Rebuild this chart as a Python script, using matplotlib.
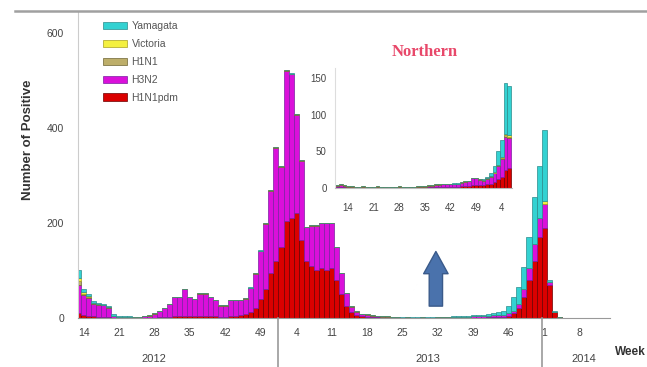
import numpy as np
import matplotlib
matplotlib.use("Agg")
import matplotlib.pyplot as plt
from matplotlib.lines import Line2D

plt.rcParams['font.family'] = ['Liberation Sans', 'DejaVu Sans']

# ----------------------------
# Weekly positives, 2012 wk13 .. 2014 wk4 (week index: 2012 wk1 = 1, 2013 wk1 = 53, 2014 wk1 = 105)
# ----------------------------
weeks = np.arange(13, 109)

h1n1pdm = [10, 6, 5, 4, 3, 3, 2, 1, 1, 1,
           1, 1, 0, 1, 1, 1, 2, 2, 3, 4,
           4, 5, 4, 4, 5, 5, 5, 4, 3, 3,
           4, 5, 6, 8, 12, 20, 40, 60, 95, 120,
           150, 205, 210, 220, 165, 120, 110, 100, 105, 100,
           105, 80, 50, 25, 12, 6, 4, 3, 2, 2,
           1, 1, 1, 1, 0, 1, 0, 0, 1, 0,
           0, 1, 1, 1, 1, 1, 1, 1, 1, 1,
           1, 2, 2, 2, 3, 5, 10, 20, 45, 80,
           120, 170, 190, 70, 12, 2]
h3n2 = [60, 42, 38, 26, 25, 24, 20, 4, 1, 1,
        2, 1, 2, 3, 4, 8, 12, 19, 26, 40,
        40, 56, 40, 35, 46, 46, 39, 33, 23, 23,
        33, 32, 31, 33, 51, 73, 101, 138, 173, 238,
        168, 315, 303, 208, 166, 71, 84, 94, 94, 99,
        94, 69, 44, 27, 12, 7, 4, 4, 3, 2,
        2, 2, 1, 1, 1, 1, 1, 1, 1, 1,
        1, 1, 1, 1, 2, 2, 2, 2, 3, 3,
        3, 3, 4, 4, 4, 5, 5, 10, 15, 25,
        35, 40, 50, 5, 0, 0]
h1n1 = [7, 3, 2, 1, 1, 1, 1, 0, 0, 0,
        0, 0, 1, 1, 1, 1, 1, 1, 1, 1,
        1, 1, 1, 1, 1, 1, 1, 1, 1, 1,
        1, 1, 1, 1, 1, 1, 1, 1, 1, 1,
        1, 1, 1, 1, 1, 1, 1, 1, 1, 1,
        1, 1, 1, 1, 1, 1, 1, 1, 1, 1,
        1, 1, 1, 0, 0, 0, 0, 0, 0, 0,
        0, 0, 0, 0, 0, 0, 0, 0, 0, 0,
        0, 0, 0, 0, 0, 0, 0, 0, 0, 0,
        0, 0, 0, 0, 0, 0]
victoria = [8, 3, 2, 1, 1, 0, 0, 0, 0, 0,
            0, 0, 0, 0, 0, 0, 0, 0, 0, 0,
            0, 0, 0, 0, 0, 0, 0, 0, 0, 0,
            0, 0, 0, 0, 0, 0, 0, 0, 0, 0,
            0, 0, 0, 0, 0, 0, 0, 0, 0, 0,
            0, 0, 0, 0, 0, 0, 0, 0, 0, 0,
            0, 0, 0, 0, 0, 0, 0, 0, 0, 0,
            0, 0, 0, 0, 0, 0, 0, 0, 0, 0,
            0, 0, 0, 1, 0, 0, 0, 0, 0, 0,
            0, 0, 6, 0, 0, 0]
yamagata = [15, 6, 3, 3, 2, 2, 2, 3, 3, 2,
            1, 1, 0, 0, 0, 0, 0, 0, 0, 0,
            0, 0, 0, 0, 0, 0, 0, 0, 0, 0,
            0, 0, 0, 0, 1, 1, 1, 1, 1, 1,
            1, 1, 1, 1, 1, 0, 0, 0, 0, 0,
            0, 0, 0, 0, 0, 0, 0, 0, 0, 0,
            0, 0, 0, 1, 1, 1, 1, 1, 1, 1,
            1, 1, 1, 1, 1, 1, 2, 2, 2, 2,
            3, 3, 4, 5, 8, 15, 30, 35, 47, 65,
            100, 110, 150, 5, 3, 1]

tick_weeks = [14, 21, 28, 35, 42, 49, 56, 63, 70, 77, 84, 91, 98, 105, 112]
tick_labels = ["14", "21", "28", "35", "42", "49", "4", "11", "18", "25",
               "32", "39", "46", "1", "8"]

# inset: "Northern" series (2013 wk11 .. 2014 wk6)
inset_weeks = np.arange(11, 59)
in_h1n1pdm = [1, 2, 1, 1, 1, 1, 1, 1, 1, 1,
              1, 1, 1, 1, 0, 1, 1, 1, 1, 1,
              1, 1, 1, 1, 1, 1, 1, 2, 2, 2,
              2, 2, 2, 2, 3, 3, 3, 4, 4, 4,
              4, 5, 6, 8, 12, 15, 25, 28]
in_h3n2 = [2, 2, 2, 1, 1, 1, 1, 1, 1, 1,
           1, 1, 1, 1, 1, 1, 1, 1, 1, 1,
           1, 1, 1, 1, 1, 2, 2, 2, 2, 3,
           3, 3, 3, 3, 4, 5, 6, 9, 9, 7,
           6, 7, 9, 12, 18, 25, 45, 40]
in_h1n1 = [1, 1, 1, 1, 1, 0, 0, 1, 0, 0,
           0, 1, 0, 0, 0, 0, 0, 1, 0, 0,
           0, 0, 1, 1, 1, 1, 1, 1, 1, 1,
           1, 1, 1, 1, 1, 1, 1, 1, 1, 1,
           1, 1, 1, 1, 1, 1, 2, 2]
in_victoria = [0] * 43 + [1, 1, 2, 2, 2]
in_yamagata = [0] * 32 + [1, 1, 0, 0, 0, 0, 0, 0,
                          1, 2, 4, 8, 18, 23, 70, 68]
inset_ticks = [14, 21, 28, 35, 42, 49, 56]
inset_labels = ["14", "21", "28", "35", "42", "49", "4"]

legend_names = ["Yamagata", "Victoria", "H1N1", "H3N2", "H1N1pdm"]
fills = ["#33D2D2", "#F4F040", "#BDAE6A", "#DA10DA", "#DA0000"]
edges = ["#2C8C8C", "#A8A020", "#6E6432", "#7A1FA2", "#6A0000"]


def stacked(axis, x, series):
    # bottom-up: H1N1pdm, H3N2, H1N1, Victoria, Yamagata
    base = np.zeros(len(x))
    handles = []
    order = [4, 3, 2, 1, 0]
    for vals, k in zip(series, order):
        vals = np.asarray(vals, dtype=float)
        b = axis.bar(x, vals, width=1.0, bottom=base, color=fills[k],
                     edgecolor=edges[k], linewidth=0.5, label=legend_names[k])
        base += vals
        handles.append(b)
    return handles[::-1]


W, H = 647, 367
fig = plt.figure(figsize=(W / 100, H / 100), dpi=100)
ax = fig.add_axes([78 / W, 1 - 318 / H, (610 - 78) / W, (318 - 12) / H])

handles = stacked(ax, weeks, [h1n1pdm, h3n2, h1n1, victoria, yamagata])

ax.set_xlim(12.9, 118)
ax.set_ylim(0, 644)
ax.set_yticks([0, 200, 400, 600])
ax.set_xticks(tick_weeks)
ax.set_xticklabels(tick_labels)
ax.tick_params(axis='both', length=0, labelsize=7.5, colors='#444444')
ax.tick_params(axis='y', pad=10)
ax.tick_params(axis='x', pad=7)
for s in ['top', 'right']:
    ax.spines[s].set_visible(False)
ax.spines['left'].set_color('#cccccc')
ax.spines['bottom'].set_color('#999999')

# year separators below the axis
for boundary in [52.5, 104.5]:
    ax.axvline(boundary, ymin=-0.16, ymax=0, color='#999999', lw=1.2, clip_on=False)

xt = ax.get_xaxis_transform()
ax.text(27.8, -0.135, "2012", transform=xt, ha='center', va='center', fontsize=8, color='#444444')
ax.text(82.0, -0.135, "2013", transform=xt, ha='center', va='center', fontsize=8, color='#444444')
ax.text(112.8, -0.135, "2014", transform=xt, ha='center', va='center', fontsize=8, color='#444444')
fig.text(630 / W, 1 - 352 / H, "Week", ha='center', va='center', fontsize=8.5,
         fontweight='bold', color='#333333')

fig.text(28 / W, 1 - 140 / H, "Number of Positive", rotation=90, ha='center',
         va='center', fontsize=9.5, fontweight='bold', color='#333333')

# frame line along the top
fig.add_artist(Line2D([15 / W, 1.0], [1 - 11 / H, 1 - 11 / H], color='#a0a0a0', lw=1.8))

ax.legend(handles=handles, loc='upper left', bbox_to_anchor=(0.03, 1.0),
          frameon=False, fontsize=7.5, handlelength=2.3, handleheight=0.7,
          labelspacing=0.75, handletextpad=0.4, labelcolor='#555555')

# arrow pointing up at the inter-season zoom
ax.annotate('', xy=(83.6, 140), xytext=(83.6, 25),
            arrowprops=dict(arrowstyle='simple,head_length=1.0,head_width=1.1,tail_width=0.6',
                            fc='#4A72AC', ec='#3A5A8A', mutation_scale=16,
                            shrinkA=0, shrinkB=0))

# inset
iax = fig.add_axes([335 / W, 1 - 188 / H, (512 - 335) / W, (188 - 68) / H])
iax.set_facecolor('white')
stacked(iax, inset_weeks, [in_h1n1pdm, in_h3n2, in_h1n1, in_victoria, in_yamagata])
iax.set_xlim(10.4, 58.8)
iax.set_ylim(0, 164)
iax.set_yticks([0, 50, 100, 150])
iax.set_xticks(inset_ticks)
iax.set_xticklabels(inset_labels)
iax.tick_params(axis='both', length=0, labelsize=7, colors='#444444')
iax.tick_params(axis='y', pad=6)
iax.tick_params(axis='x', pad=11)
for s in ['top', 'right']:
    iax.spines[s].set_visible(False)
iax.spines['left'].set_color('#dddddd')
iax.spines['bottom'].set_color('#bbbbbb')

fig.text(425 / W, 1 - 52 / H, "Northern", ha='center', va='center', fontsize=12,
         fontweight='bold', family=['Liberation Serif', 'DejaVu Serif'], color='#E8486A')

fig.savefig("out.png", dpi=100)
